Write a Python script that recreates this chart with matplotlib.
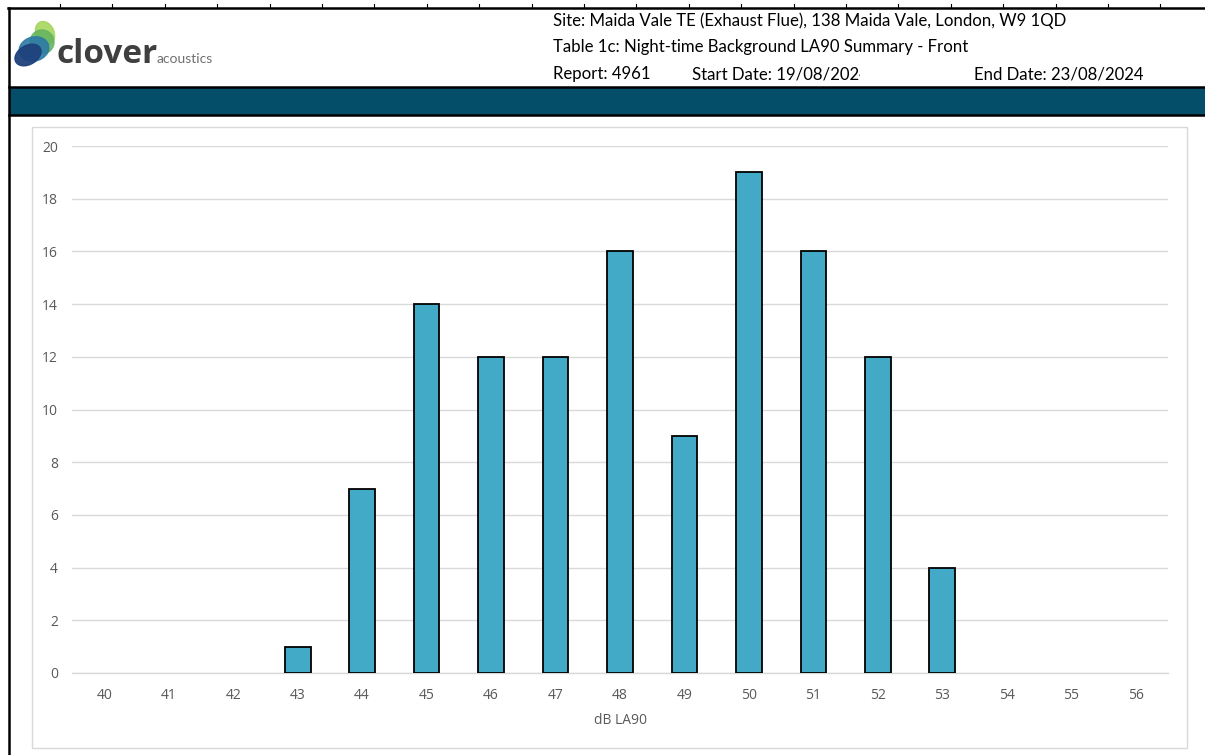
import numpy as np
import matplotlib.pyplot as plt
from matplotlib.patches import Rectangle, Ellipse
from matplotlib.transforms import Bbox

# Histogram data
levels = ['40', '41', '42', '43', '44', '45', '46', '47', '48',
          '49', '50', '51', '52', '53', '54', '55', '56']
counts = [0, 0, 0, 1, 7, 14, 12, 12, 16, 9, 19, 16, 12, 4, 0, 0, 0]
y_ticks = [0, 2, 4, 6, 8, 10, 12, 14, 16, 18, 20]

site_text = 'Site: Maida Vale TE (Exhaust Flue), 138 Maida Vale, London, W9 1QD'
table_text = 'Table 1c: Night-time Background LA90 Summary - Front'
report_text = 'Report: 4961'
start_text = 'Start Date: 19/08/2024'
end_text = 'End Date: 23/08/2024'

W, H = 1205, 755
BAR = '#42aac7'
BAND = '#044e69'
GRID = '#d9d9d9'
LABEL = '#595959'
HEAD_FONT = ['Lato', 'DejaVu Sans']
TICK_FONT = ['Open Sans', 'DejaVu Sans']
HEAD_SIZE = 12.1

fig = plt.figure(figsize=(W / 100, H / 100), dpi=100)
fig.patch.set_facecolor('white')

# Overlay axes in pixel coordinates (y down) for the page furniture
page = fig.add_axes([0, 0, 1, 1])
page.set_xlim(0, W)
page.set_ylim(H, 0)
page.axis('off')

# Sheet borders and little cell marks along the top
page.plot([8, W], [8, 8], color='black', lw=1.8)
page.plot([9, 9], [8, H], color='black', lw=1.8)
for x in np.arange(60, 1190, 52.4):
    page.plot([x, x], [4, 8], color='black', lw=0.8)

# Dark band below the header
page.add_patch(Rectangle((9, 87), W - 9, 28, facecolor=BAND, edgecolor='none'))
page.plot([9, W], [87, 87], color='black', lw=1.8)
page.plot([9, W], [115, 115], color='black', lw=1.8)

# Logo blobs
page.add_patch(Ellipse((45, 33), 18, 24, angle=-25, color='#a5d65e', alpha=0.9))
page.add_patch(Ellipse((42, 42), 24, 24, angle=10, color='#62b35f', alpha=0.85))
page.add_patch(Ellipse((34, 49), 30, 24, angle=-15, color='#2d7aa6', alpha=0.9))
page.add_patch(Ellipse((28, 55), 28, 19, angle=-30, color='#1f417c', alpha=0.95))
page.text(56, 63, 'clover', fontsize=24, fontweight='bold', color='#3f3f3f',
          family=TICK_FONT, va='baseline', ha='left')
page.text(157, 63, 'acoustics', fontsize=10, color='#707070',
          family=HEAD_FONT, va='baseline', ha='left')

# Header text
page.text(553, 26, site_text, fontsize=HEAD_SIZE, family=HEAD_FONT,
          va='baseline')
page.text(553, 52, table_text, fontsize=HEAD_SIZE, family=HEAD_FONT,
          va='baseline')
page.text(553, 79, report_text, fontsize=HEAD_SIZE, family=HEAD_FONT,
          va='baseline')
start = page.text(692, 79, start_text, fontsize=HEAD_SIZE, family=HEAD_FONT,
                  va='baseline')
start.set_clip_box(Bbox.from_extents(0, 0, 860, H))
start.set_clip_on(True)
page.text(974, 79, end_text, fontsize=HEAD_SIZE, family=HEAD_FONT,
          va='baseline')

# Chart frame
page.add_patch(Rectangle((32, 127), 1155, 621, facecolor='none',
                         edgecolor=GRID, lw=1.0))

# Plot area
ax = fig.add_axes([72 / W, 82 / H, 1096 / W, 527 / H])
x = np.arange(len(levels))
edges = ['black' if c > 0 else 'none' for c in counts]
ax.bar(x, counts, width=0.4, color=BAR, edgecolor=edges, lw=1.3, zorder=3)
ax.set_xlim(-0.5, len(levels) - 0.5)
ax.set_ylim(0, 20)
ax.set_xticks(x)
ax.set_xticklabels(levels)
ax.set_yticks(y_ticks)
ax.grid(axis='y', color=GRID, lw=1.0, zorder=0)
for s in ['top', 'right', 'left']:
    ax.spines[s].set_visible(False)
ax.spines['bottom'].set_color(GRID)
ax.spines['bottom'].set_linewidth(1.0)
ax.tick_params(axis='both', length=0, labelsize=10, labelcolor=LABEL)
ax.tick_params(axis='y', pad=10)
ax.tick_params(axis='x', pad=11)
for lbl in ax.get_xticklabels() + ax.get_yticklabels():
    lbl.set_family(TICK_FONT)
ax.set_xlabel('dB LA90', fontsize=10, color=LABEL, family=TICK_FONT,
              labelpad=7)

fig.savefig('out.png', dpi=100)
